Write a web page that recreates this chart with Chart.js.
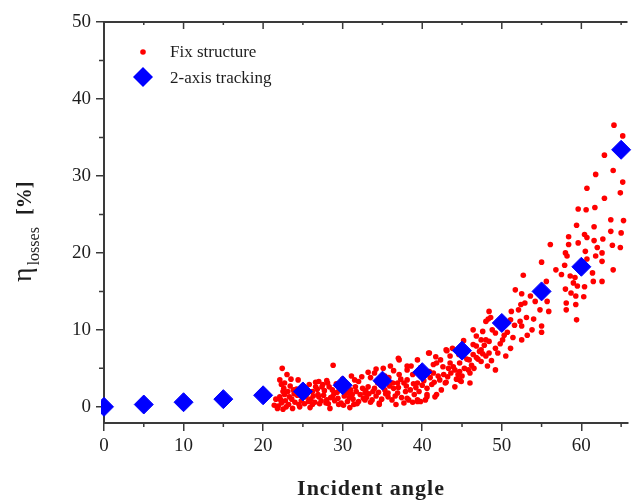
<!DOCTYPE html>
<html>
<head>
<meta charset="utf-8">
<script src="https://cdn.jsdelivr.net/npm/chart.js@4.4.0/dist/chart.umd.min.js"></script>
<style>
  html, body { margin: 0; padding: 0; background: #fff; }
</style>
</head>
<body>
<canvas id="chart" width="638" height="502"></canvas>
<script>
// 2-axis tracking (blue diamonds)
var trackAngle = [0, 5, 10, 15, 20, 25, 30, 35, 40, 45, 50, 55, 60, 65];
var trackLoss = [0.0, 0.3, 0.6, 1.0, 1.5, 2.0, 2.8, 3.4, 4.5, 7.3, 10.9, 15.0, 18.2, 33.4];

// Fix structure (red dots)
var fixAngle = [
  // upper branch
  64.1, 65.2, 62.9, 64.0, 61.8, 65.2, 60.7, 62.9, 64.9, 59.6,
  60.6, 61.7, 63.7, 65.3, 59.4, 61.6, 58.4, 60.4, 63.7, 65.0,
  58.4, 59.6, 60.7, 61.6, 62.7, 63.9, 64.9, 56.1, 58.0, 58.2,
  60.5, 62.0, 62.6, 61.8, 60.7, 62.6, 55.0, 57.9, 56.8, 57.5,
  58.6, 61.4, 64.0, 52.7, 59.2, 59.0, 61.5, 62.6, 55.6, 58.0,
  59.5, 60.4, 51.7, 58.7, 59.3, 60.3, 52.5, 53.6, 55.7, 58.1,
  59.3, 58.1, 52.9, 54.2, 54.8, 55.9, 52.4, 52.1, 51.2, 48.4,
  48.3, 59.4, 51.1, 52.3, 53.1, 51.6, 52.5, 55.0, 53.8, 55.0,
  46.4, 47.6, 49.2, 50.7, 47.4, 48.4, 50.1, 52.5, 51.1, 49.2,
  46.8, 48.0, 46.4, 50.5,
  // middle
  48.6, 48.0, 48.8, 46.8, 48.0, 46.4, 47.4, 48.4, 45.9, 47.4,
  48.2, 49.2, 43.0, 40.9, 43.5, 42.3, 41.4, 43.3, 44.7, 46.0,
  46.0, 44.9, 43.0, 40.6, 41.6, 40.6, 39.4, 38.1, 36.7, 34.6,
  37.1, 36.9, 35.7, 38.1, 38.6, 39.4, 38.1,
  // lower
  22.4, 23.0, 22.1, 22.3, 22.7, 28.8, 31.1, 27.0, 28.1, 26.6,
  34.0, 35.1, 36.0, 37.0, 38.1, 38.8, 37.1, 40.8, 43.1, 41.8,
  44.1, 41.4, 42.9, 41.8, 39.8, 38.8, 37.7, 40.6, 36.9, 35.7,
  34.6, 32.8, 31.4, 29.5, 27.9, 26.2, 24.6, 22.9, 21.9, 32.0,
  33.2, 32.8, 30.7, 28.7, 27.0, 25.4, 23.3, 22.1, 22.5, 23.8,
  26.2, 28.7, 29.9, 27.5, 31.6, 34.4, 35.3, 36.3, 37.7, 38.5,
  39.4, 39.8, 42.7, 43.5, 44.7, 44.7, 44.1, 39.4,
  // dense cloud near the floor
  22.3, 22.8, 23.2, 23.6, 24.0, 24.3, 24.8, 25.2, 25.6, 26.0,
  26.5, 26.9, 27.3, 27.7, 28.2, 28.5, 29.0, 29.3, 29.8, 30.2,
  30.6, 31.0, 31.3, 31.8, 32.2, 32.5, 33.0, 33.5, 33.8, 34.2,
  22.6, 23.4, 24.2, 25.0, 25.8, 26.6, 27.4, 28.0, 29.2, 30.0,
  30.4, 31.5, 33.5, 34.8, 35.8, 36.4, 37.3, 37.9, 38.9, 39.6,
  40.2, 40.9, 41.2, 42.0, 42.4, 43.6, 44.3, 45.3, 45.6, 46.2,
  46.8, 47.2, 47.8, 45.2, 44.6, 43.8, 42.6, 41.7, 39.8, 36.4,
  35.3, 34.2, 33.2, 32.4, 21.4, 21.6, 21.8, 22.5, 23.7, 25.9,
  28.4, 30.9, 24.4, 23.5,
  22.2, 22.7, 23.1, 23.9, 24.5, 24.9, 25.4, 25.7, 26.3, 26.8,
  27.1, 27.6, 28.0, 28.3, 28.9, 29.4, 29.6, 30.1, 30.5, 30.8,
  31.2, 31.7, 32.0, 32.6, 32.9, 33.3, 33.7, 34.0, 34.5, 34.9,
  35.4, 35.9, 36.2, 36.6, 37.0, 37.4, 38.0, 38.3, 39.0, 39.2,
  40.0, 40.4, 41.0, 41.5, 42.2, 43.2, 43.9, 44.5, 45.0, 45.8,
  46.5, 47.0, 47.6, 48.7, 49.5, 49.8, 50.3, 51.4, 53.2, 54.0
];
var fixLoss = [
  36.6, 35.2, 32.7, 30.7, 30.2, 29.2, 28.4, 27.1, 27.8, 25.7,
  25.6, 25.9, 24.3, 24.2, 23.6, 23.4, 22.1, 22.4, 22.8, 22.6,
  21.1, 21.3, 22.0, 21.6, 21.8, 21.0, 20.7, 21.1, 20.0, 19.6,
  20.2, 20.7, 20.0, 19.6, 19.2, 18.9, 18.8, 18.4, 17.8, 17.2,
  17.0, 17.4, 17.8, 17.1, 16.8, 16.1, 16.3, 16.3, 16.3, 15.3,
  15.7, 15.6, 15.2, 14.8, 14.4, 14.3, 14.7, 14.4, 13.7, 13.5,
  13.3, 12.6, 13.5, 13.7, 12.6, 12.4, 13.3, 12.6, 12.4, 12.4,
  11.4, 11.3, 11.3, 11.1, 11.6, 10.6, 10.5, 10.5, 10.0, 9.7,
  10.0, 9.8, 9.6, 9.7, 8.7, 8.5, 8.7, 8.7, 7.6, 7.6,
  7.9, 6.6, 6.8, 6.6,

  11.6, 11.1, 10.0, 9.2, 8.7, 8.1, 7.4, 7.0, 6.1, 5.9,
  5.3, 4.8, 7.4, 7.0, 6.6, 6.1, 5.5, 5.0, 4.6, 4.4,
  3.1, 3.3, 3.2, 2.4, 1.3, 1.3, 0.7, 1.1, 0.3, 0.3,
  6.1, 3.1, 1.8, 3.5, 5.3, 6.1, 4.8,

  5.0, 4.2, 3.5, 2.9, 3.1, 5.4, 4.0, 3.3, 3.1, 2.6,
  4.4, 5.0, 5.3, 6.3, 5.3, 4.2, 4.2, 7.0, 7.3, 5.7,
  4.8, 4.4, 3.1, 1.6, 0.7, 0.6, 0.5, 1.6, 1.8, 1.3,
  0.5, 0.9, 0.3, 0.3, 0.5, 0.3, 0.0, 0.0, 0.1, 3.3,
  2.6, 1.8, 1.8, 1.3, 1.3, 1.3, 1.3, 1.3, 2.0, 2.2,
  2.0, 2.2, 2.6, 2.9, 2.6, 3.1, 2.2, 3.1, 3.1, 2.2,
  3.1, 4.0, 4.2, 5.7, 5.7, 3.5, 2.6, 0.9,

  0.5, 0.8, 0.3, 1.0, 0.6, 1.5, 0.8, 0.4, 1.8, 1.0,
  0.6, 1.6, 0.8, 2.1, 0.4, 1.2, 0.8, 1.9, 0.5, 1.4,
  0.7, 2.2, 1.0, 0.4, 1.6, 2.4, 1.2, 0.6, 2.0, 1.4,
  2.4, 2.7, 2.3, 2.6, 2.9, 3.2, 2.6, 3.4, 3.0, 3.6,
  2.6, 3.5, 3.8, 2.8, 3.8, 2.4, 3.6, 2.0, 3.0, 2.0,
  3.4, 4.6, 2.9, 4.0, 2.2, 4.4, 3.6, 5.0, 6.2, 5.4,
  6.4, 7.2, 8.0, 8.6, 6.8, 7.6, 5.2, 6.5, 5.1, 4.7,
  4.0, 4.9, 4.5, 3.9, 0.2, 1.0, -0.2, -0.3, -0.2, -0.1,
  -0.2, -0.1, 3.5, 3.6,
  0.9, 1.6, 2.0, 1.7, 0.3, 1.9, 2.2, 0.7, 1.4, 2.3,
  0.4, 1.5, 0.9, 2.6, 1.7, 1.1, 2.3, 0.2, 1.9, 1.2,
  1.6, 2.0, 0.7, 1.1, 2.1, 1.7, 0.9, 2.4, 1.9, 1.0,
  1.7, 2.7, 0.9, 1.4, 2.5, 1.2, 2.7, 0.9, 1.6, 2.5,
  2.8, 0.9, 3.8, 3.2, 3.5, 3.9, 5.2, 4.2, 4.0, 4.8,
  5.0, 6.2, 6.9, 6.0, 7.0, 8.2, 9.3, 9.0, 9.3, 11.4
];

var xTicks = [0, 10, 20, 30, 40, 50, 60];
var xMinor = [5, 15, 25, 35, 45, 55, 65];
var yTicks = [0, 10, 20, 30, 40, 50];
var yMinor = [5, 15, 25, 35, 45];

var axisColor = '#3a3a3a';
var textColor = '#1e1e1e';
var serif = "'Liberation Serif', 'Times New Roman', serif";

var fixData = fixAngle.map(function (a, i) { return { x: a, y: fixLoss[i] }; });
var trackData = trackAngle.map(function (a, i) { return { x: a, y: trackLoss[i] }; });

// minor ticks, top axis, legend and axis titles
var decor = {
  id: 'decor',
  afterDraw: function (chart) {
    var ctx = chart.ctx, area = chart.chartArea;
    var xs = chart.scales.x, ys = chart.scales.y;
    ctx.save();
    ctx.strokeStyle = axisColor;
    ctx.lineWidth = 2;
    ctx.beginPath();
    ctx.moveTo(area.left - 1, area.top);
    ctx.lineTo(area.right, area.top);
    ctx.stroke();

    ctx.lineWidth = 1.5;
    ctx.beginPath();
    xTicks.forEach(function (v) {
      var px = xs.getPixelForValue(v);
      ctx.moveTo(px, area.top);
      ctx.lineTo(px, area.top + 7);
    });
    xMinor.forEach(function (v) {
      var px = xs.getPixelForValue(v);
      if (px > area.right) return;
      ctx.moveTo(px, area.top);
      ctx.lineTo(px, area.top + 3);
      ctx.moveTo(px, area.bottom);
      ctx.lineTo(px, area.bottom + 4);
    });
    yMinor.forEach(function (v) {
      var py = ys.getPixelForValue(v);
      ctx.moveTo(area.left, py);
      ctx.lineTo(area.left - 5, py);
    });
    ctx.stroke();

    // legend
    ctx.fillStyle = '#ff0000';
    ctx.beginPath();
    ctx.arc(143, 52, 2.8, 0, Math.PI * 2);
    ctx.fill();
    ctx.fillStyle = '#0000ff';
    ctx.beginPath();
    ctx.moveTo(133, 77);
    ctx.lineTo(143, 67);
    ctx.lineTo(153, 77);
    ctx.lineTo(143, 87);
    ctx.closePath();
    ctx.fill();
    ctx.fillStyle = textColor;
    ctx.font = '17px ' + serif;
    ctx.textAlign = 'left';
    ctx.textBaseline = 'middle';
    ctx.fillText('Fix structure', 170, 53);
    ctx.fillText('2-axis tracking', 170, 79);

    // x title
    ctx.font = 'bold 22px ' + serif;
    ctx.textAlign = 'center';
    if ('letterSpacing' in ctx) ctx.letterSpacing = '1px';
    ctx.fillText('Incident angle', 371, 489);
    if ('letterSpacing' in ctx) ctx.letterSpacing = '0px';

    // y title with subscript
    ctx.translate(31, 282);
    ctx.rotate(-Math.PI / 2);
    ctx.textAlign = 'left';
    ctx.textBaseline = 'alphabetic';
    ctx.font = '28px ' + serif;
    ctx.fillText('η', 0, 0);
    var etaW = ctx.measureText('η').width;
    ctx.font = '16px ' + serif;
    ctx.fillText('losses', etaW + 2, 8);
    ctx.font = 'bold 20px ' + serif;
    ctx.fillText('[%]', 67, 0);
    ctx.restore();
  }
};

var config = {
  type: 'scatter',
  data: {
    datasets: [{
      label: 'Fix structure',
      data: fixData,
      backgroundColor: '#ff0000',
      borderWidth: 0,
      pointRadius: 2.8,
      order: 1
    }, {
      label: '2-axis tracking',
      data: trackData,
      backgroundColor: '#0000ff',
      borderColor: '#0000ff',
      borderWidth: 1,
      pointStyle: 'rectRot',
      pointRadius: 9.5,
      clip: { left: 3, top: 10, right: 10, bottom: 10 },
      order: 0
    }]
  },
  options: {
    responsive: false,
    animation: false,
    events: [],
    layout: { padding: { top: 22, right: 0, bottom: 0, left: 0 } },
    plugins: {
      legend: { display: false },
      tooltip: { enabled: false }
    },
    scales: {
      x: {
        type: 'linear',
        min: 0,
        max: 65.8,
        afterBuildTicks: function (s) { s.ticks = xTicks.map(function (v) { return { value: v }; }); },
        afterFit: function (s) { s.height = 79; },
        grid: { drawOnChartArea: false, tickLength: 8, color: axisColor, lineWidth: 1.5 },
        border: { color: axisColor, width: 2 },
        ticks: { autoSkip: false, maxRotation: 0, padding: 4, color: textColor, font: { family: serif, size: 19 } }
      },
      y: {
        min: -2.1,
        max: 50,
        afterBuildTicks: function (s) { s.ticks = yTicks.map(function (v) { return { value: v }; }); },
        afterFit: function (s) { s.width = 104; },
        grid: { drawOnChartArea: false, tickLength: 8, color: axisColor, lineWidth: 1.5 },
        border: { color: axisColor, width: 2 },
        ticks: { padding: 5, color: textColor, font: { family: serif, size: 19 } }
      }
    }
  },
  plugins: [decor]
};

var testChart = new Chart(document.getElementById('chart'), config);
</script>
</body>
</html>
